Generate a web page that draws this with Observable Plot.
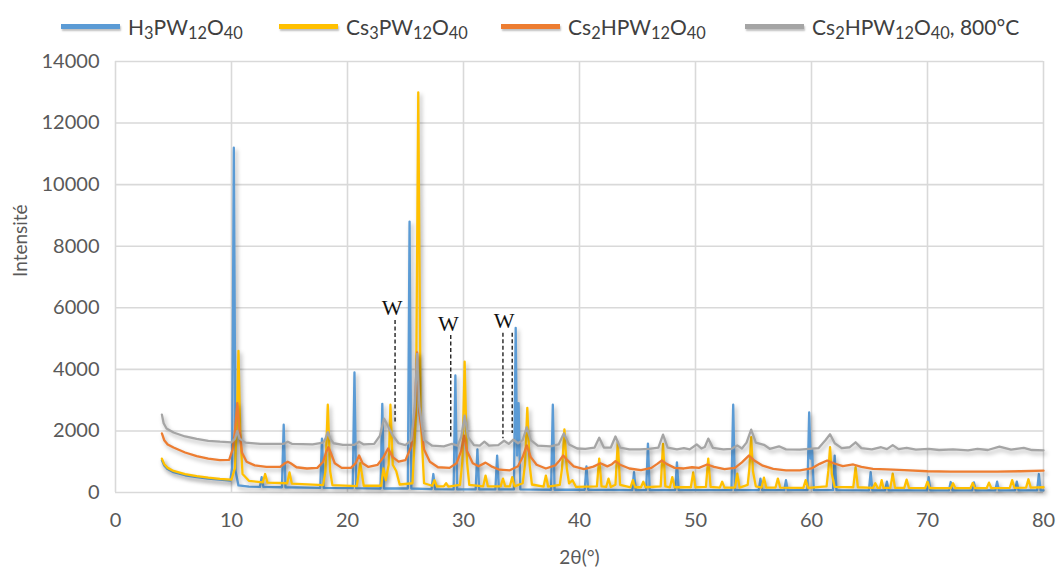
<!DOCTYPE html>
<html>
<head>
<meta charset="utf-8">
<script src="https://cdn.jsdelivr.net/npm/d3@7"></script>
<script src="https://cdn.jsdelivr.net/npm/@observablehq/plot@0.6"></script>
<style>
  body { margin: 0; background: #fff; font-family: Lato, "Open Sans", sans-serif; }
  #legend { position: relative; width: 1059px; height: 45px; }
  .item { position: absolute; top: 14px; display: flex; align-items: center; font-size: 21px; color: #404040; white-space: nowrap; }
  .sw { width: 59px; height: 5px; margin-right: 8px; box-shadow: 1px 2px 2px rgba(0,0,0,0.25); }
  .item sub { font-size: 0.78em; vertical-align: -0.22em; line-height: 0; }
  #chart svg g[aria-label="line"] path { filter: drop-shadow(2px 3px 2px rgba(0,0,0,0.3)); }
</style>
</head>
<body>
<div id="legend"></div>
<div id="chart"></div>
<script>
// ---- data ----
const seriesNames = ["H3PW12O40", "Cs3PW12O40", "Cs2HPW12O40", "Cs2HPW12O40, 800°C"];
const seriesLabels = [
  "H<sub>3</sub>PW<sub>12</sub>O<sub>40</sub>",
  "Cs<sub>3</sub>PW<sub>12</sub>O<sub>40</sub>",
  "Cs<sub>2</sub>HPW<sub>12</sub>O<sub>40</sub>",
  "Cs<sub>2</sub>HPW<sub>12</sub>O<sub>40</sub>, 800°C"
];
const seriesColors = ["#5B9BD5", "#FFC000", "#ED7D31", "#A5A5A5"];
const xTicks = [0, 10, 20, 30, 40, 50, 60, 70, 80];
const yTicks = [0, 2000, 4000, 6000, 8000, 10000, 12000, 14000];

// [2θ, intensity]
const h3pw = [[4.0,1050],[4.2,880],[4.5,760],[5,660],[6,560],[7,500],[8,450],[9,415],[9.9,390],[10.05,800],[10.2,11200],[10.35,700],[10.6,230],[11.5,190],[12.45,180],[12.6,500],[12.75,180],[14.35,170],[14.5,2200],[14.65,170],[17.65,150],[17.8,1750],[17.95,150],[20.45,140],[20.6,3900],[20.75,140],[22.85,130],[23.0,2880],[23.15,130],[25.2,130],[25.35,8800],[25.5,130],[27.25,110],[27.4,600],[27.55,110],[29.15,100],[29.3,3800],[29.45,100],[31.05,100],[31.2,1400],[31.35,100],[32.75,100],[32.9,1200],[33.05,100],[34.35,100],[34.5,5350],[34.62,1200],[34.75,2900],[34.9,100],[37.55,90],[37.7,2850],[37.85,90],[40.45,90],[40.6,850],[40.75,90],[44.55,80],[44.7,660],[44.85,80],[45.75,80],[45.9,1590],[46.05,80],[48.25,80],[48.4,980],[48.55,80],[53.1,75],[53.25,2850],[53.4,75],[55.45,75],[55.6,450],[55.75,75],[57.65,75],[57.8,400],[57.95,75],[59.65,75],[59.8,2600],[59.92,1100],[60.05,1400],[60.2,75],[61.85,75],[62.0,1200],[62.15,75],[64.95,70],[65.1,660],[65.25,70],[66.35,70],[66.5,350],[66.65,70],[69.95,70],[70.1,500],[70.25,70],[71.85,70],[72.0,340],[72.15,70],[73.85,70],[74.0,330],[74.15,70],[75.85,70],[76.0,350],[76.15,70],[77.55,70],[77.7,350],[77.85,70],[79.45,70],[79.6,600],[79.75,70],[80,70]];

const cs3pw = [[4.0,1100],[4.2,920],[4.5,800],[5,700],[6,600],[7,530],[8,480],[9,440],[10.0,420],[10.3,800],[10.45,2200],[10.6,4600],[10.75,2000],[10.95,600],[11.5,380],[12.7,330],[12.9,600],[13.1,320],[14.8,300],[15.0,650],[15.2,290],[17.9,240],[18.1,700],[18.3,2850],[18.5,700],[18.7,240],[20.8,210],[21.1,950],[21.4,220],[22.9,220],[23.1,780],[23.3,400],[23.55,900],[23.7,2850],[23.9,900],[24.2,700],[24.5,260],[25.6,300],[25.9,2500],[26.1,13000],[26.3,2500],[26.6,300],[27.3,220],[27.5,400],[27.7,200],[28.3,200],[28.5,300],[28.7,190],[29.7,250],[29.9,1000],[30.1,4250],[30.3,1000],[30.5,250],[31.7,200],[31.9,550],[32.1,200],[33.2,200],[33.4,450],[33.6,200],[34.0,200],[34.2,500],[34.4,200],[35.1,300],[35.3,900],[35.5,2750],[35.7,900],[35.9,260],[36.9,190],[37.1,550],[37.3,190],[38.3,250],[38.5,800],[38.7,2050],[38.9,800],[39.1,300],[39.4,400],[39.7,180],[41.5,200],[41.7,1100],[41.9,200],[42.3,180],[42.5,450],[42.7,180],[43.1,250],[43.3,1630],[43.5,250],[44.4,170],[44.6,400],[44.8,170],[45.3,170],[45.5,350],[45.7,170],[47.0,200],[47.2,1580],[47.4,200],[47.8,170],[48.0,500],[48.2,170],[49.6,170],[49.8,650],[50.0,170],[50.9,180],[51.1,1100],[51.3,180],[52.1,160],[52.3,350],[52.5,160],[53.4,160],[53.6,610],[53.8,160],[54.5,250],[54.65,800],[54.8,1800],[54.95,700],[55.2,200],[55.7,160],[55.9,480],[56.1,160],[56.9,160],[57.1,450],[57.3,160],[59.3,150],[59.5,400],[59.7,150],[61.3,200],[61.45,700],[61.6,1470],[61.75,600],[62.0,180],[63.6,170],[63.8,820],[64.0,170],[65.3,150],[65.5,300],[65.7,150],[65.9,150],[66.05,400],[66.2,150],[66.8,150],[67.0,610],[67.2,150],[68.0,150],[68.2,420],[68.4,150],[69.8,140],[70.0,350],[70.2,140],[72.0,140],[72.2,300],[72.4,140],[73.7,140],[73.9,310],[74.1,140],[75.1,140],[75.3,320],[75.5,140],[77.1,150],[77.3,400],[77.5,150],[78.5,160],[78.7,430],[78.9,160],[80,170]];

const cs2hpw = [[4.0,1920],[4.2,1700],[4.5,1560],[5,1460],[6,1300],[7,1180],[8,1100],[9,1050],[9.8,1060],[10.1,1400],[10.3,2000],[10.5,2900],[10.7,2000],[10.9,1300],[11.3,1000],[12,880],[13,830],[14.2,830],[14.6,950],[14.85,1000],[15.1,950],[15.6,820],[16.5,780],[17.4,800],[17.9,1000],[18.15,1300],[18.35,1470],[18.55,1300],[18.9,950],[19.5,800],[20.3,800],[20.7,950],[21.0,1200],[21.3,950],[21.8,830],[22.6,900],[23.1,1150],[23.5,1430],[23.9,1150],[24.4,1000],[25.0,1050],[25.5,1500],[25.8,2600],[26.0,4550],[26.2,2600],[26.6,1400],[27.1,1000],[27.8,820],[28.8,800],[29.4,950],[29.8,1350],[30.05,1850],[30.3,1350],[30.8,950],[31.3,850],[31.9,970],[32.4,850],[33.1,740],[34.0,720],[34.7,850],[35.1,1150],[35.45,1530],[35.8,1150],[36.3,900],[37.1,780],[37.9,880],[38.3,1050],[38.6,1200],[38.95,1050],[39.5,850],[40.4,760],[41.2,840],[41.8,950],[42.4,850],[42.8,920],[43.1,1020],[43.5,900],[44.3,780],[45.3,730],[46.2,800],[46.7,930],[47.1,1040],[47.5,930],[48.2,800],[49.0,780],[49.7,820],[50.3,800],[51.0,910],[51.6,830],[52.5,760],[53.4,800],[54.0,980],[54.6,1200],[55.1,1030],[55.8,870],[56.7,770],[57.8,720],[59.0,720],[60.0,780],[60.7,930],[61.35,1040],[61.9,950],[62.7,860],[63.6,910],[64.3,830],[65.3,770],[66.5,750],[68,730],[70,690],[72,680],[74,675],[76,680],[78,690],[80,710]];

const cs2hpw800 = [[4.0,2530],[4.15,2250],[4.4,2080],[5,1950],[6,1820],[7,1740],[8,1680],[9,1650],[10.0,1630],[10.3,1750],[10.5,2000],[10.7,1750],[11.2,1620],[12.5,1580],[14.5,1580],[14.85,1650],[15.2,1580],[17.0,1560],[17.9,1620],[18.1,1750],[18.3,1960],[18.5,1750],[18.8,1600],[19.6,1550],[20.6,1550],[21.0,1650],[21.4,1560],[22.3,1580],[22.8,1850],[23.15,2400],[23.5,2150],[23.9,1850],[24.4,1600],[25.0,1540],[25.5,1700],[25.8,2800],[26.0,4500],[26.2,2800],[26.6,1700],[27.3,1520],[28.3,1500],[29.0,1580],[29.5,1520],[29.8,1800],[30.1,2500],[30.4,1800],[30.9,1540],[31.4,1520],[31.8,1650],[32.2,1520],[33.0,1540],[33.5,1680],[33.9,1580],[34.3,1720],[34.7,1600],[35.1,1700],[35.45,2120],[35.8,1700],[36.4,1520],[37.5,1500],[38.2,1560],[38.65,1920],[39.1,1560],[39.8,1430],[40.5,1420],[41.3,1460],[41.7,1780],[42.1,1460],[42.7,1460],[43.1,1820],[43.5,1460],[44.3,1400],[45.2,1400],[46.0,1420],[46.8,1460],[47.2,1880],[47.6,1460],[48.4,1400],[49.0,1440],[49.5,1400],[50.1,1560],[50.5,1430],[50.8,1480],[51.1,1750],[51.5,1450],[52.4,1400],[53.1,1420],[53.6,1530],[54.0,1430],[54.4,1620],[54.8,2040],[55.2,1620],[55.9,1550],[56.4,1420],[57.2,1500],[57.8,1400],[59.0,1390],[60.6,1440],[61.2,1700],[61.6,1890],[62.0,1600],[62.6,1440],[63.3,1470],[63.8,1630],[64.3,1440],[65.2,1400],[66.0,1470],[66.5,1410],[67.0,1540],[67.5,1410],[68.2,1450],[69.0,1390],[70.1,1420],[71.0,1380],[72.2,1400],[73.5,1370],[74.3,1420],[75.2,1380],[76.2,1490],[77.2,1390],[78.3,1450],[79.0,1380],[80,1370]];

// "W" annotations: label position and dashed marker lines
const wLabels = [[23.85, 6010], [28.7, 5460], [33.5, 5560]];
const wLines = [[24.1, 5590, 2290], [28.9, 5100, 1750], [33.4, 5170, 1750], [34.2, 5170, 1920]];

const seriesData = [h3pw, cs3pw, cs2hpw, cs2hpw800];

// ---- legend ----
const legendX = [61, 279, 501, 745];
const legend = document.getElementById("legend");
seriesLabels.forEach((lab, i) => {
  const it = document.createElement("div");
  it.className = "item";
  it.style.left = legendX[i] + "px";
  it.innerHTML = `<span class="sw" style="background:${seriesColors[i]}"></span><span>${lab}</span>`;
  legend.appendChild(it);
});

// ---- chart ----
const chart = Plot.plot({
  width: 1059,
  height: 525,
  marginLeft: 115,
  marginRight: 16,
  marginTop: 16,
  marginBottom: 78,
  style: { fontFamily: "Lato, 'Open Sans', sans-serif", background: "#fff" },
  x: { domain: [0, 80] },
  y: { domain: [0, 14000] },
  marks: [
    Plot.gridX(xTicks, { stroke: "#d9d9d9", strokeOpacity: 1, strokeWidth: 1.6 }),
    Plot.gridY(yTicks, { stroke: "#d9d9d9", strokeOpacity: 1, strokeWidth: 1.6 }),
    Plot.axisX(xTicks, { tickSize: 0, tickPadding: 20, fontSize: 20, color: "#595959", label: null, tickFormat: d => String(d) }),
    Plot.axisY(yTicks, { tickSize: 0, tickPadding: 16, fontSize: 20, color: "#595959", label: null, tickFormat: d => String(d) }),
    ...seriesData.map((s, i) => Plot.line(s, { x: d => d[0], y: d => d[1], stroke: seriesColors[i], strokeWidth: 2.3 })),
    Plot.ruleX(wLines, { x: d => d[0], y1: d => d[1], y2: d => d[2], stroke: "#222", strokeWidth: 1.4, strokeDasharray: "4,2.5" }),
    Plot.text(wLabels, { x: d => d[0], y: d => d[1], text: () => "W", fontSize: 22, fontFamily: "'Liberation Serif', 'DejaVu Serif', serif", fill: "#111" }),
    Plot.text(["2θ(°)"], { frameAnchor: "bottom", dy: 65, lineAnchor: "middle", fontSize: 19, fill: "#595959" }),
    Plot.text(["Intensité"], { frameAnchor: "left", dx: -95, rotate: -90, fontSize: 19, fill: "#595959" })
  ]
});
document.getElementById("chart").appendChild(chart);
</script>
</body>
</html>
